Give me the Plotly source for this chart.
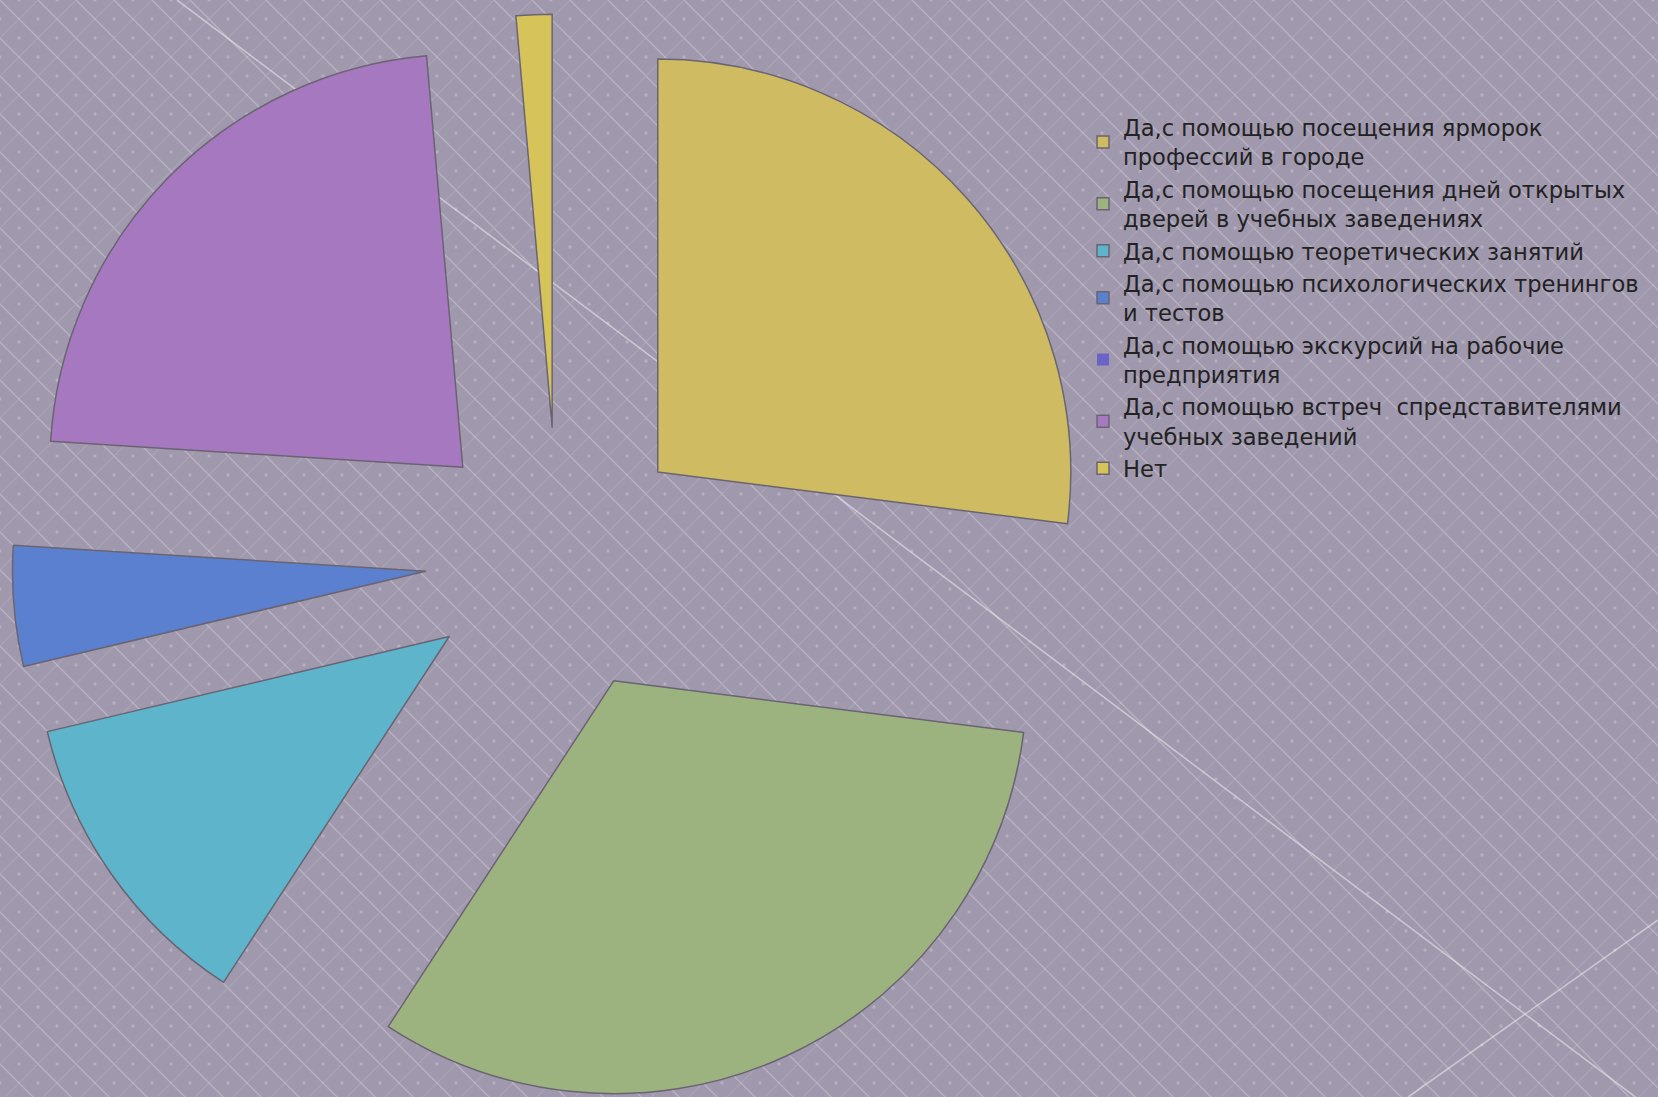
import base64
import plotly.graph_objects as go

# ---- data ----
labels = [
    "Да,с помощью посещения ярморок<br>профессий в городе",
    "Да,с помощью посещения дней открытых<br>дверей в учебных заведениях",
    "Да,с помощью теоретических занятий",
    "Да,с помощью психологических тренингов<br>и тестов",
    "Да,с помощью экскурсий на рабочие<br>предприятия",
    "Да,с помощью встреч\u00a0 спредставителями<br>учебных заведений",
    "Нет",
]
values = [27.0, 32.2, 12.1, 4.7, 0.0, 22.6, 1.4]
colors = ["#cfbb62", "#9db37f", "#5db4cb", "#5b80cf", "#6b63c8", "#a678bf", "#d6c35a"]

W = 1658
H = 1110          # a little taller than the 1097 window so the pie centre sits where it does in the slide
PULL = 0.322

# ---- background (patterned slide backdrop) ----
svg = f"""<svg xmlns='http://www.w3.org/2000/svg' width='{W}' height='{H}'>
<defs><pattern id='p' width='38' height='38' patternUnits='userSpaceOnUse'>
<path d='M-1,-1L39,39' stroke='#ffffff' stroke-opacity='0.26' stroke-width='1.3'/>
<path d='M-1,39L39,-1' stroke='#ffffff' stroke-opacity='0.11' stroke-width='1.3'/>
<circle cx='19' cy='0' r='1.7' fill='#ffffff' fill-opacity='0.22'/>
<circle cx='19' cy='38' r='1.7' fill='#ffffff' fill-opacity='0.22'/>
<circle cx='0' cy='19' r='1.7' fill='#ffffff' fill-opacity='0.22'/>
<circle cx='38' cy='19' r='1.7' fill='#ffffff' fill-opacity='0.22'/>
</pattern></defs>
<rect width='{W}' height='{H}' fill='#a098ad'/>
<rect width='{W}' height='{H}' fill='url(#p)'/>
<line x1='177' y1='0' x2='1658' y2='1114' stroke='#ffffff' stroke-opacity='0.45' stroke-width='1.6'/>
<line x1='1408' y1='1097' x2='1658' y2='920' stroke='#ffffff' stroke-opacity='0.45' stroke-width='1.6'/>
</svg>"""
bg_src = "data:image/svg+xml;base64," + base64.b64encode(svg.encode("utf-8")).decode("ascii")

line_widths = [0 if v == 0 else 1.5 for v in values]

# pie box in pixels: centre (558, 560), half-size 546
cx, cy, half = 558.0, 560.0, 546.0
fig = go.Figure(
    go.Pie(
        labels=labels,
        values=values,
        sort=False,
        direction="clockwise",
        rotation=0,
        pull=[PULL] * len(values),
        textinfo="none",
        hoverinfo="label+percent",
        marker=dict(colors=colors, line=dict(color="#6a6472", width=line_widths)),
        domain=dict(
            x=[(cx - half) / W, (cx + half) / W],
            y=[1 - (cy + half) / H, 1 - (cy - half) / H],
        ),
    )
)

fig.update_layout(
    width=W,
    height=H,
    margin=dict(l=0, r=0, t=0, b=0, autoexpand=False),
    paper_bgcolor="#a098ad",
    plot_bgcolor="#a098ad",
    showlegend=True,
    legend=dict(
        x=1083 / W,
        y=1 - 106 / H,
        xanchor="left",
        yanchor="top",
        bgcolor="rgba(0,0,0,0)",
        font=dict(family="DejaVu Sans", size=22.6, color="#222222"),
        itemclick=False,
        itemdoubleclick=False,
        traceorder="normal",
    ),
    images=[
        dict(
            source=bg_src,
            xref="paper",
            yref="paper",
            x=0,
            y=1,
            sizex=1,
            sizey=1,
            xanchor="left",
            yanchor="top",
            sizing="stretch",
            layer="below",
        )
    ],
)

fig.write_html(
    "out.html",
    config={"displayModeBar": False},
    post_script="document.body.style.margin='0';document.body.style.overflow='hidden';",
)
